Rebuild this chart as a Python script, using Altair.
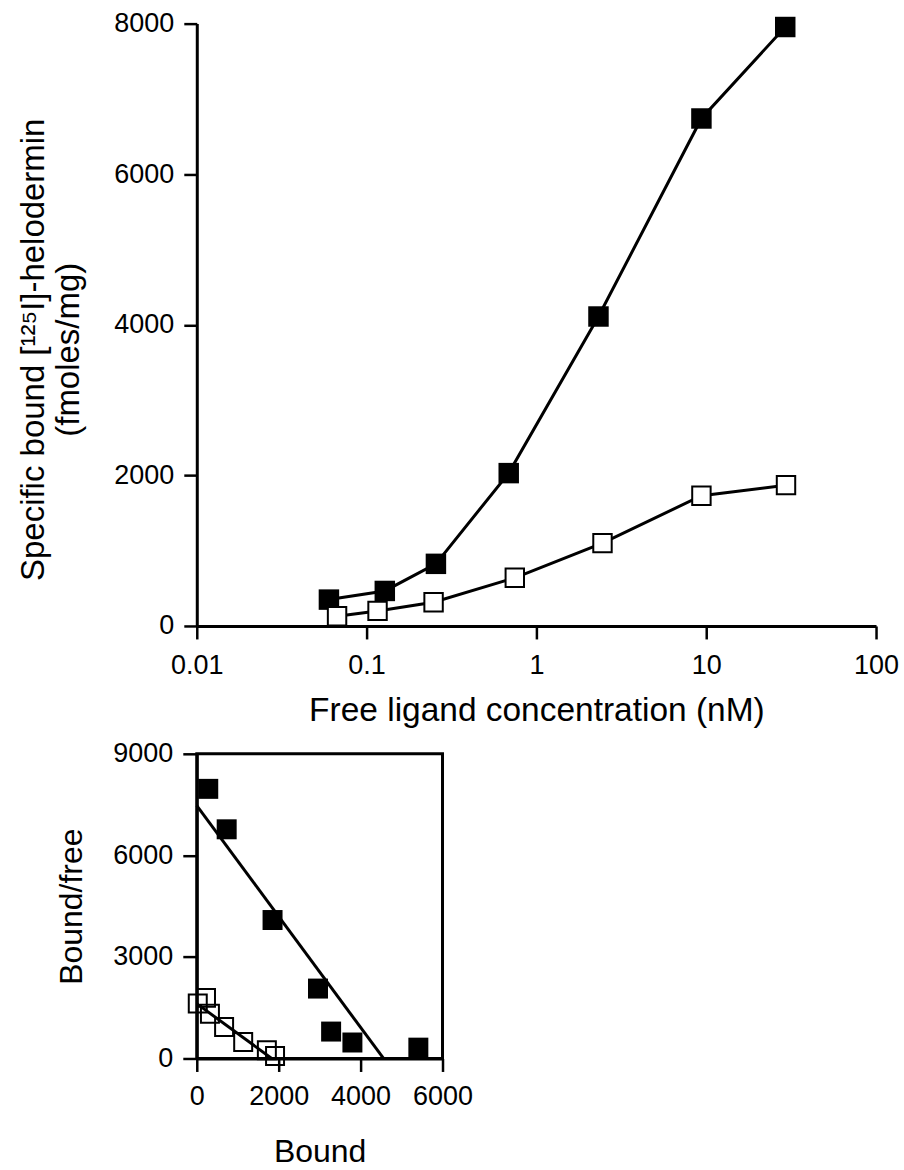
import altair as alt
import pandas as pd

# ---- Saturation curve (top panel) ----
conc_filled = [0.060, 0.128, 0.256, 0.687, 2.32, 9.37, 29.2]
bound_filled = [350, 465, 825, 2030, 4110, 6740, 7955]
conc_open = [0.067, 0.116, 0.248, 0.746, 2.45, 9.37, 29.5]
bound_open = [130, 200, 315, 640, 1100, 1730, 1870]

# ---- Scatchard plot (bottom panel) ----
sc_bound_filled = [280, 730, 1850, 2960, 3280, 3800, 5410]
sc_bf_filled = [7965, 6770, 4090, 2065, 795, 472, 320]
sc_bound_open = [24, 225, 321, 667, 1133, 1711, 1911]
sc_bf_open = [1623, 1790, 1320, 930, 490, 240, 70]
fit_filled_x = [0, 4560]
fit_filled_y = [7470, 0]
fit_open_x = [0, 1830]
fit_open_y = [1620, 0]

x_ticks_top = [0.01, 0.1, 1, 10, 100]
y_ticks_top = [0, 2000, 4000, 6000, 8000]
x_ticks_bot = [0, 2000, 4000, 6000]
y_ticks_bot = [0, 3000, 6000, 9000]

FONT = "Liberation Sans"

top_df = pd.DataFrame({
    "conc": conc_filled + conc_open,
    "bound": bound_filled + bound_open,
    "series": ["filled"] * len(conc_filled) + ["open"] * len(conc_open),
})
sc_df = pd.DataFrame({
    "b": sc_bound_filled + sc_bound_open,
    "bf": sc_bf_filled + sc_bf_open,
    "series": ["filled"] * len(sc_bound_filled) + ["open"] * len(sc_bound_open),
})
fit_df = pd.DataFrame({
    "b": fit_filled_x + fit_open_x,
    "bf": fit_filled_y + fit_open_y,
    "series": ["filled"] * 2 + ["open"] * 2,
})

xt = alt.X("conc:Q",
           scale=alt.Scale(type="log", domain=[0.01, 100]),
           axis=alt.Axis(values=x_ticks_top, format="~g", labelOverlap=False, labelFlush=False,
                         title="Free ligand concentration (nM)", titleFontSize=33.5,
                         tickSize=13, labelPadding=14, titlePadding=16))
yt = alt.Y("bound:Q",
           scale=alt.Scale(domain=[0, 8000], nice=False),
           axis=alt.Axis(values=y_ticks_top, format="d", labelOverlap=False, labelFlush=False,
                         title=["Specific bound [¹²⁵I]-helodermin", "(fmoles/mg)"],
                         titleFontSize=33, titleLineHeight=35, titleX=-146, titleY=326,
                         tickSize=13, labelPadding=10))

base_top = alt.Chart(top_df)
top_line = base_top.mark_line(color="black", strokeWidth=3).encode(x=xt, y=yt, detail="series:N")
top_filled = base_top.transform_filter(alt.datum.series == "filled").mark_square(
    size=420, color="black", opacity=1).encode(x=xt, y=yt)
top_open = base_top.transform_filter(alt.datum.series == "open").mark_square(
    size=340, fill="white", stroke="black", strokeWidth=2, opacity=1).encode(x=xt, y=yt)

top = alt.layer(top_line, top_filled, top_open).properties(width=680, height=603)

xb = alt.X("b:Q", scale=alt.Scale(domain=[0, 6000], nice=False),
           axis=alt.Axis(values=x_ticks_bot, format="d", labelOverlap=False, labelFlush=False,
                         title="Bound",
                         tickSize=13, labelPadding=12, titlePadding=27))
yb = alt.Y("bf:Q", scale=alt.Scale(domain=[0, 9000], nice=False),
           axis=alt.Axis(values=y_ticks_bot, format="d", labelOverlap=False, labelFlush=False,
                         title="Bound/free",
                         tickSize=14, labelPadding=10, titlePadding=24))

sc_base = alt.Chart(sc_df)
sc_filled = sc_base.transform_filter(alt.datum.series == "filled").mark_square(
    size=400, color="black", opacity=1).encode(x=xb, y=yb)
sc_open = sc_base.transform_filter(alt.datum.series == "open").mark_square(
    size=324, filled=False, stroke="black", strokeWidth=2, opacity=1).encode(x=xb, y=yb)
sc_fit = alt.Chart(fit_df).mark_line(color="black", strokeWidth=3).encode(x=xb, y=yb, detail="series:N")

bottom = alt.layer(sc_filled, sc_open, sc_fit).properties(
    width=246, height=305,
    view=alt.ViewBackground(stroke="black", strokeWidth=3),
)

chart = alt.vconcat(top, bottom, spacing=128, bounds="flush").properties(
    padding={"left": 18, "top": 9, "right": 5, "bottom": 5},
    background="white",
).configure_view(stroke=None).configure_axis(
    grid=False,
    domainColor="black", domainWidth=3,
    tickColor="black", tickWidth=2.5,
    labelFont=FONT, labelFontSize=27, labelColor="black",
    titleFont=FONT, titleFontSize=32, titleFontWeight="normal", titleColor="black",
)

chart.save("out.html", embed_options={"renderer": "svg", "actions": False})
